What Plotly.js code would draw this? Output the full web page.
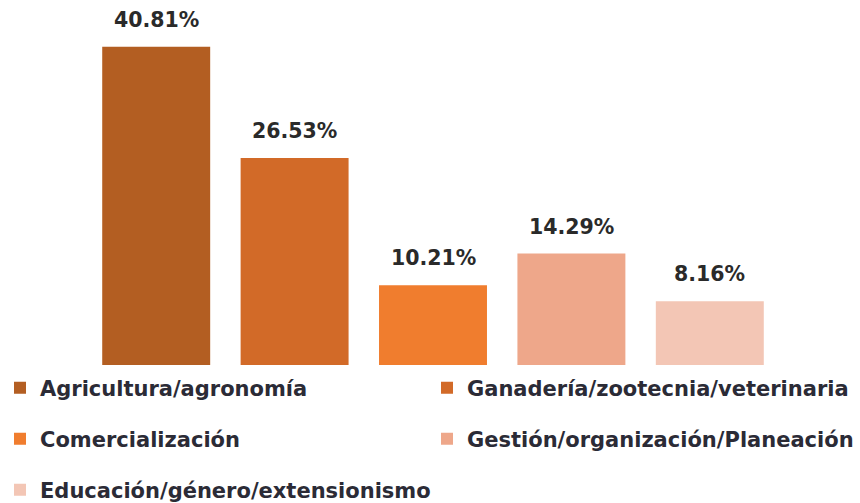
<!DOCTYPE html>
<html>
<head>
<meta charset="utf-8">
<script src="https://cdn.plot.ly/plotly-3.0.1.min.js"></script>
<style>html,body{margin:0;padding:0;background:#fff;}#chart{width:860px;height:503px;}</style>
</head>
<body>
<div id="chart"></div>
<script>
const categories = [
  "Agricultura/agronomía",
  "Ganadería/zootecnia/veterinaria",
  "Comercialización",
  "Gestión/organización/Planeación",
  "Educación/género/extensionismo"
];
const values = [40.81, 26.53, 10.21, 14.29, 8.16];
const valueLabels = ["40.81%", "26.53%", "10.21%", "14.29%", "8.16%"];
const colors = ["#B35E22", "#D26A28", "#F07D2E", "#EEA78A", "#F3C6B5"];
const legendIds = ["legend", "legend2", "legend3", "legend4", "legend5"];

const FONT = "DejaVu Sans, Verdana, sans-serif";

const traces = categories.map((c, i) => ({
  type: "bar",
  name: c,
  x: [c],
  y: [values[i]],
  width: 0.78,
  marker: {color: colors[i], line: {width: 0}},
  legend: legendIds[i],
  hoverinfo: "none"
}));

const annotations = categories.map((c, i) => ({
  x: c, y: values[i], xref: "x", yref: "y",
  text: "<b>" + valueLabels[i] + "</b>",
  showarrow: false, yanchor: "middle", yshift: 27,
  font: {family: FONT, size: 20.5, color: "#2a2a2a"}
}));

// legend box positions (container px): [left, vertical center]
const legendPos = [[0, 388], [427, 388], [0, 439], [427, 439], [0, 490]];

function legendAt(p) {
  return {
    orientation: "v",
    xref: "container", yref: "container",
    x: p[0] / 860, xanchor: "left",
    y: 1 - p[1] / 503, yanchor: "middle",
    font: {family: FONT, size: 21, color: "#2b2b36", weight: "bold"},
    bgcolor: "rgba(0,0,0,0)", borderwidth: 0
  };
}

const layout = {
  width: 860, height: 503,
  margin: {l: 87, r: 81, t: 14, b: 138, autoexpand: false},
  paper_bgcolor: "#ffffff", plot_bgcolor: "#ffffff",
  barmode: "overlay",
  showlegend: true,
  xaxis: {type: "category", categoryorder: "array", categoryarray: categories,
          range: [-0.5, 4.5], showticklabels: false, showgrid: false, zeroline: false,
          showline: false, ticks: "", fixedrange: true},
  yaxis: {range: [0, 45], showticklabels: false, showgrid: false, zeroline: false,
          showline: false, ticks: "", fixedrange: true},
  annotations: annotations
};
legendIds.forEach((id, i) => { layout[id] = legendAt(legendPos[i]); });

Plotly.newPlot("chart", traces, layout, {displayModeBar: false, staticPlot: true});
</script>
</body>
</html>
